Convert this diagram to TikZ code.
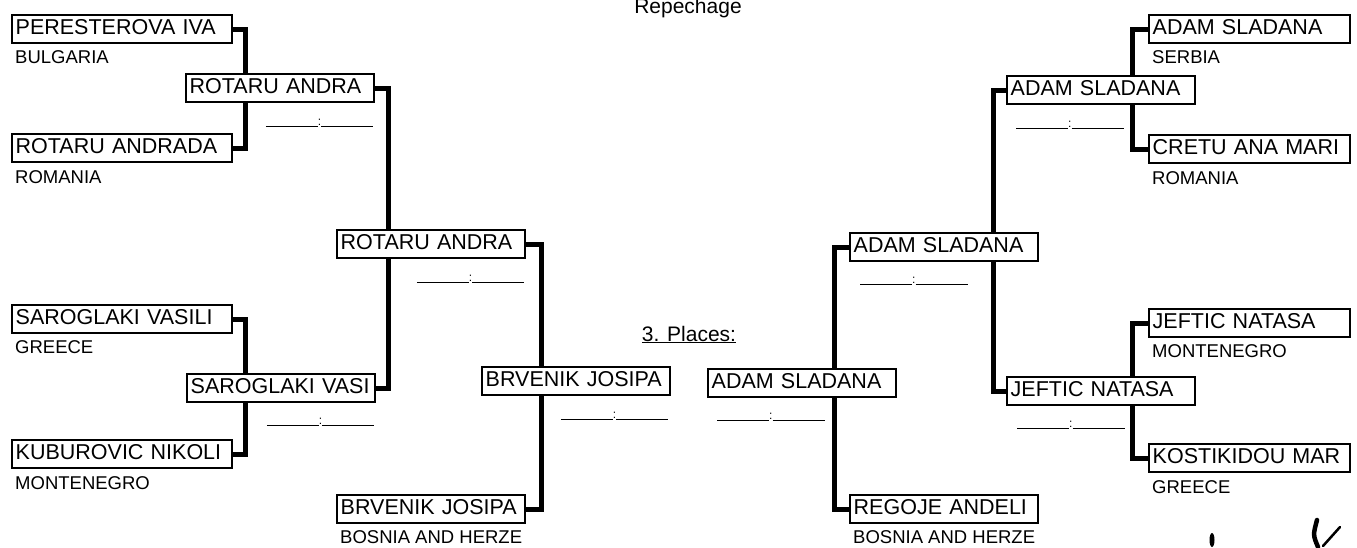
\documentclass[tikz,border=0pt]{standalone}
\usepackage{fontspec}
\setmainfont{Liberation Sans}
\usetikzlibrary{positioning}

\begin{document}
\begin{tikzpicture}[x=1pt,y=-1pt,
      player/.style={draw,line width=2.4pt,fill=white,anchor=north west,
      inner xsep=3.5pt,inner ysep=0pt,minimum height=28pt,text height=15.5pt,
      text depth=4pt,align=left,text width=181pt,font=\fontsize{21.5}{24}\selectfont},
      seedL/.style={player,text width=213pt},
      seedR/.style={player,text width=194pt},
      nation/.style={anchor=base west,inner sep=0pt,font=\fontsize{18.5}{20}\selectfont},
      score/.style={inner sep=0pt,font=\fontsize{12}{14}\selectfont},
      link/.style={line width=5pt}]
      \useasboundingbox (0,0) rectangle (1357,547);
      \node[anchor=base,font=\fontsize{21}{24}\selectfont] (title) at (688,13) {Repechage};
      \node[anchor=base,font=\fontsize{21}{24}\selectfont] (places) at (689,341) {\underline{3. Places:}};
      % left half
      \node[seedL] (pere) at (11,14) {PERESTEROVA IVA};
      \node[seedL] (andrada) at (11,133) {ROTARU ANDRADA};
      \node[seedL] (vasili) at (11,304) {SAROGLAKI VASILI};
      \node[seedL] (nikoli) at (11,439) {KUBUROVIC NIKOLI};
      \node[player] (rotL2) at (185,73) {ROTARU ANDRA};
      \node[player] (saroL2) at (186,373) {SAROGLAKI VASI};
      \node[player] (rotL3) at (336,229) {ROTARU ANDRA};
      \node[player] (brvL4) at (481,366) {BRVENIK JOSIPA};
      \node[player] (brvL1) at (336,494) {BRVENIK JOSIPA};
      \node[nation] (bul) at ([xshift=4pt,yshift=-19pt]pere.south west) {BULGARIA};
      \node[nation] (rou) at ([xshift=4pt,yshift=-20pt]andrada.south west) {ROMANIA};
      \node[nation] (gre) at ([xshift=4pt,yshift=-19pt]vasili.south west) {GREECE};
      \node[nation] (mne) at ([xshift=4pt,yshift=-20pt]nikoli.south west) {MONTENEGRO};
      \node[nation] (bih) at ([xshift=4pt,yshift=-19pt]brvL1.south west) {BOSNIA AND HERZE};
      \draw[link] (pere.east) -| ([xshift=60pt]rotL2.north west);
      \draw[link] (andrada.east) -| ([xshift=60pt]rotL2.south west);
      \draw[link] (vasili.east) -| ([xshift=59pt]saroL2.north west);
      \draw[link] (nikoli.east) -| ([xshift=59pt]saroL2.south west);
      \draw[link] (rotL2.east) -| ([xshift=52pt]rotL3.north west);
      \draw[link] (saroL2.east) -| ([xshift=52pt]rotL3.south west);
      \draw[link] (rotL3.east) -| ([xshift=60pt]brvL4.north west);
      \draw[link] (brvL1.east) -| ([xshift=60pt]brvL4.south west);
      \node[score,anchor=base east] (rotL2s) at ([xshift=-2pt,yshift=-24pt]rotL2.south east) {\rule{52pt}{1.2pt}\raisebox{2pt}{:}\rule{52pt}{1.2pt}};
      \node[score,anchor=base east] (saroL2s) at ([xshift=-2pt,yshift=-23pt]saroL2.south east) {\rule{52pt}{1.2pt}\raisebox{2pt}{:}\rule{52pt}{1.2pt}};
      \node[score,anchor=base east] (rotL3s) at ([xshift=-2pt,yshift=-24pt]rotL3.south east) {\rule{52pt}{1.2pt}\raisebox{2pt}{:}\rule{52pt}{1.2pt}};
      \node[score,anchor=base east] (brvL4s) at ([xshift=-3pt,yshift=-24pt]brvL4.south east) {\rule{52pt}{1.2pt}\raisebox{2pt}{:}\rule{52pt}{1.2pt}};
      % right half
      \node[seedR] (adam) at (1148,14) {ADAM SLADANA};
      \node[seedR] (cretu) at (1148,134) {CRETU ANA MARI};
      \node[seedR] (natasa) at (1148,308) {JEFTIC NATASA};
      \node[seedR] (kosti) at (1148,443) {KOSTIKIDOU MAR};
      \node[player] (adamR2) at (1006,75) {ADAM SLADANA};
      \node[player] (jefR2) at (1006,376) {JEFTIC NATASA};
      \node[player] (adamR3) at (849,232) {ADAM SLADANA};
      \node[player] (adamR4) at (707,368) {ADAM SLADANA};
      \node[player] (regoje) at (849,494) {REGOJE ANDELI};
      \node[nation] (srb) at ([xshift=4pt,yshift=-19pt]adam.south west) {SERBIA};
      \node[nation] (rouR) at ([xshift=4pt,yshift=-20pt]cretu.south west) {ROMANIA};
      \node[nation] (mneR) at ([xshift=4pt,yshift=-19pt]natasa.south west) {MONTENEGRO};
      \node[nation] (greR) at ([xshift=4pt,yshift=-20pt]kosti.south west) {GREECE};
      \node[nation] (bihR) at ([xshift=4pt,yshift=-19pt]regoje.south west) {BOSNIA AND HERZE};
      \draw[link] (adam.west) -| ([xshift=126pt]adamR2.north west);
      \draw[link] (cretu.west) -| ([xshift=126pt]adamR2.south west);
      \draw[link] (natasa.west) -| ([xshift=126pt]jefR2.north west);
      \draw[link] (kosti.west) -| ([xshift=126pt]jefR2.south west);
      \draw[link] (adamR2.west) -| ([xshift=144pt]adamR3.north west);
      \draw[link] (jefR2.west) -| ([xshift=144pt]adamR3.south west);
      \draw[link] (adamR3.west) -| ([xshift=127pt]adamR4.north west);
      \draw[link] (regoje.west) -| ([xshift=127pt]adamR4.south west);
      \node[score,anchor=base west] (adamR2s) at ([xshift=10pt,yshift=-24pt]adamR2.south west) {\rule{52pt}{1.2pt}\raisebox{2pt}{:}\rule{52pt}{1.2pt}};
      \node[score,anchor=base west] (jefR2s) at ([xshift=11pt,yshift=-23pt]jefR2.south west) {\rule{52pt}{1.2pt}\raisebox{2pt}{:}\rule{52pt}{1.2pt}};
      \node[score,anchor=base west] (adamR3s) at ([xshift=11pt,yshift=-23pt]adamR3.south west) {\rule{52pt}{1.2pt}\raisebox{2pt}{:}\rule{52pt}{1.2pt}};
      \node[score,anchor=base west] (adamR4s) at ([xshift=10pt,yshift=-23pt]adamR4.south west) {\rule{52pt}{1.2pt}\raisebox{2pt}{:}\rule{52pt}{1.2pt}};
      % pen marks
      \fill (1212,540) ellipse (2.5 and 7);
      \draw[line width=4.5pt,line cap=round] (1317,520) .. controls (1313,535) .. (1318,547);
      \draw[line width=2.5pt,line cap=round] (1323,546) .. controls (1331,536) .. (1340,527);
    \end{tikzpicture}
\end{document}
